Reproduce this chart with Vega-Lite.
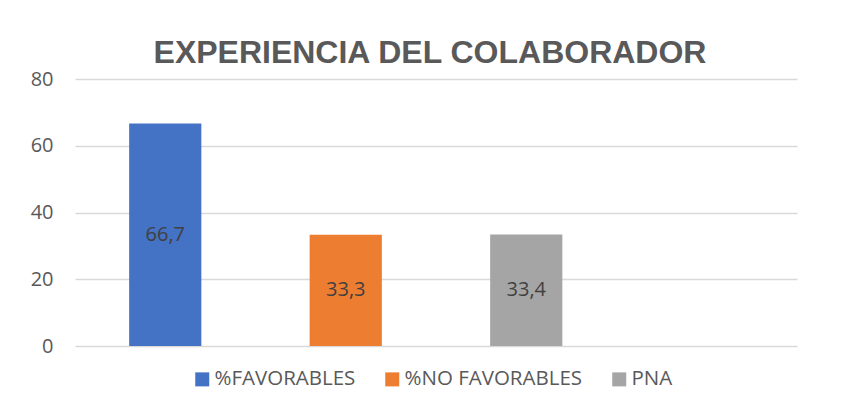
{
  "$schema": "https://vega.github.io/schema/vega-lite/v6.json",
  "width": 722,
  "height": 267,
  "autosize": {"type": "none"},
  "padding": {"left": 75, "top": 79, "right": 44, "bottom": 64},
  "background": "white",
  "config": {
    "locale": {"number": {"decimal": ",", "thousands": ".", "grouping": [3], "currency": ["", "€"]}},
    "view": {"stroke": null},
    "font": "Open Sans"
  },
  "title": {
    "text": "EXPERIENCIA DEL COLABORADOR",
    "font": "Liberation Sans",
    "fontSize": 32,
    "fontWeight": "bold",
    "color": "#595959",
    "anchor": "middle",
    "offset": -1,
    "dx": -6
  },
  "data": {
    "values": [
      {"categoria": "%FAVORABLES", "valor": 66.7},
      {"categoria": "%NO FAVORABLES", "valor": 33.3},
      {"categoria": "PNA", "valor": 33.4}
    ]
  },
  "encoding": {
    "x": {
      "field": "categoria",
      "type": "nominal",
      "sort": null,
      "scale": {"domain": ["%FAVORABLES", "%NO FAVORABLES", "PNA", " "], "paddingInner": 0.6, "paddingOuter": 0.3},
      "axis": null
    }
  },
  "resolve": {"scale": {"y": "independent"}},
  "layer": [
    {
      "mark": {"type": "bar"},
      "encoding": {
        "y": {
          "field": "valor",
          "type": "quantitative",
          "scale": {"domain": [0, 80]},
          "axis": {
            "title": null,
            "values": [0, 20, 40, 60, 80],
            "domain": false,
            "ticks": false,
            "grid": true,
            "gridColor": "#D9D9D9",
            "gridWidth": 1.5,
            "labelFont": "Open Sans",
            "labelFontSize": 20,
            "labelColor": "#595959",
            "labelPadding": 22
          }
        },
        "color": {
          "field": "categoria",
          "type": "nominal",
          "scale": {"domain": ["%FAVORABLES", "%NO FAVORABLES", "PNA"], "range": ["#4472C4", "#ED7D31", "#A5A5A5"]},
          "legend": {
            "title": null,
            "orient": "none",
            "legendX": 117,
            "legendY": 290,
            "direction": "horizontal",
            "symbolType": "square",
            "symbolSize": 196,
            "symbolStrokeWidth": 0,
            "symbolOpacity": 1,
            "labelFont": "Open Sans",
            "labelFontSize": 20.5,
            "labelColor": "#595959",
            "labelOffset": 2,
            "labelLimit": 400,
            "columnPadding": 26,
            "padding": 0
          }
        }
      }
    },
    {
      "mark": {"type": "text", "font": "Open Sans", "fontSize": 20, "color": "#404040", "baseline": "middle"},
      "encoding": {
        "y": {"field": "valor", "type": "quantitative", "scale": {"domain": [0, 160]}, "axis": null},
        "text": {"field": "valor", "type": "quantitative", "format": ".1f"}
      }
    }
  ]
}
